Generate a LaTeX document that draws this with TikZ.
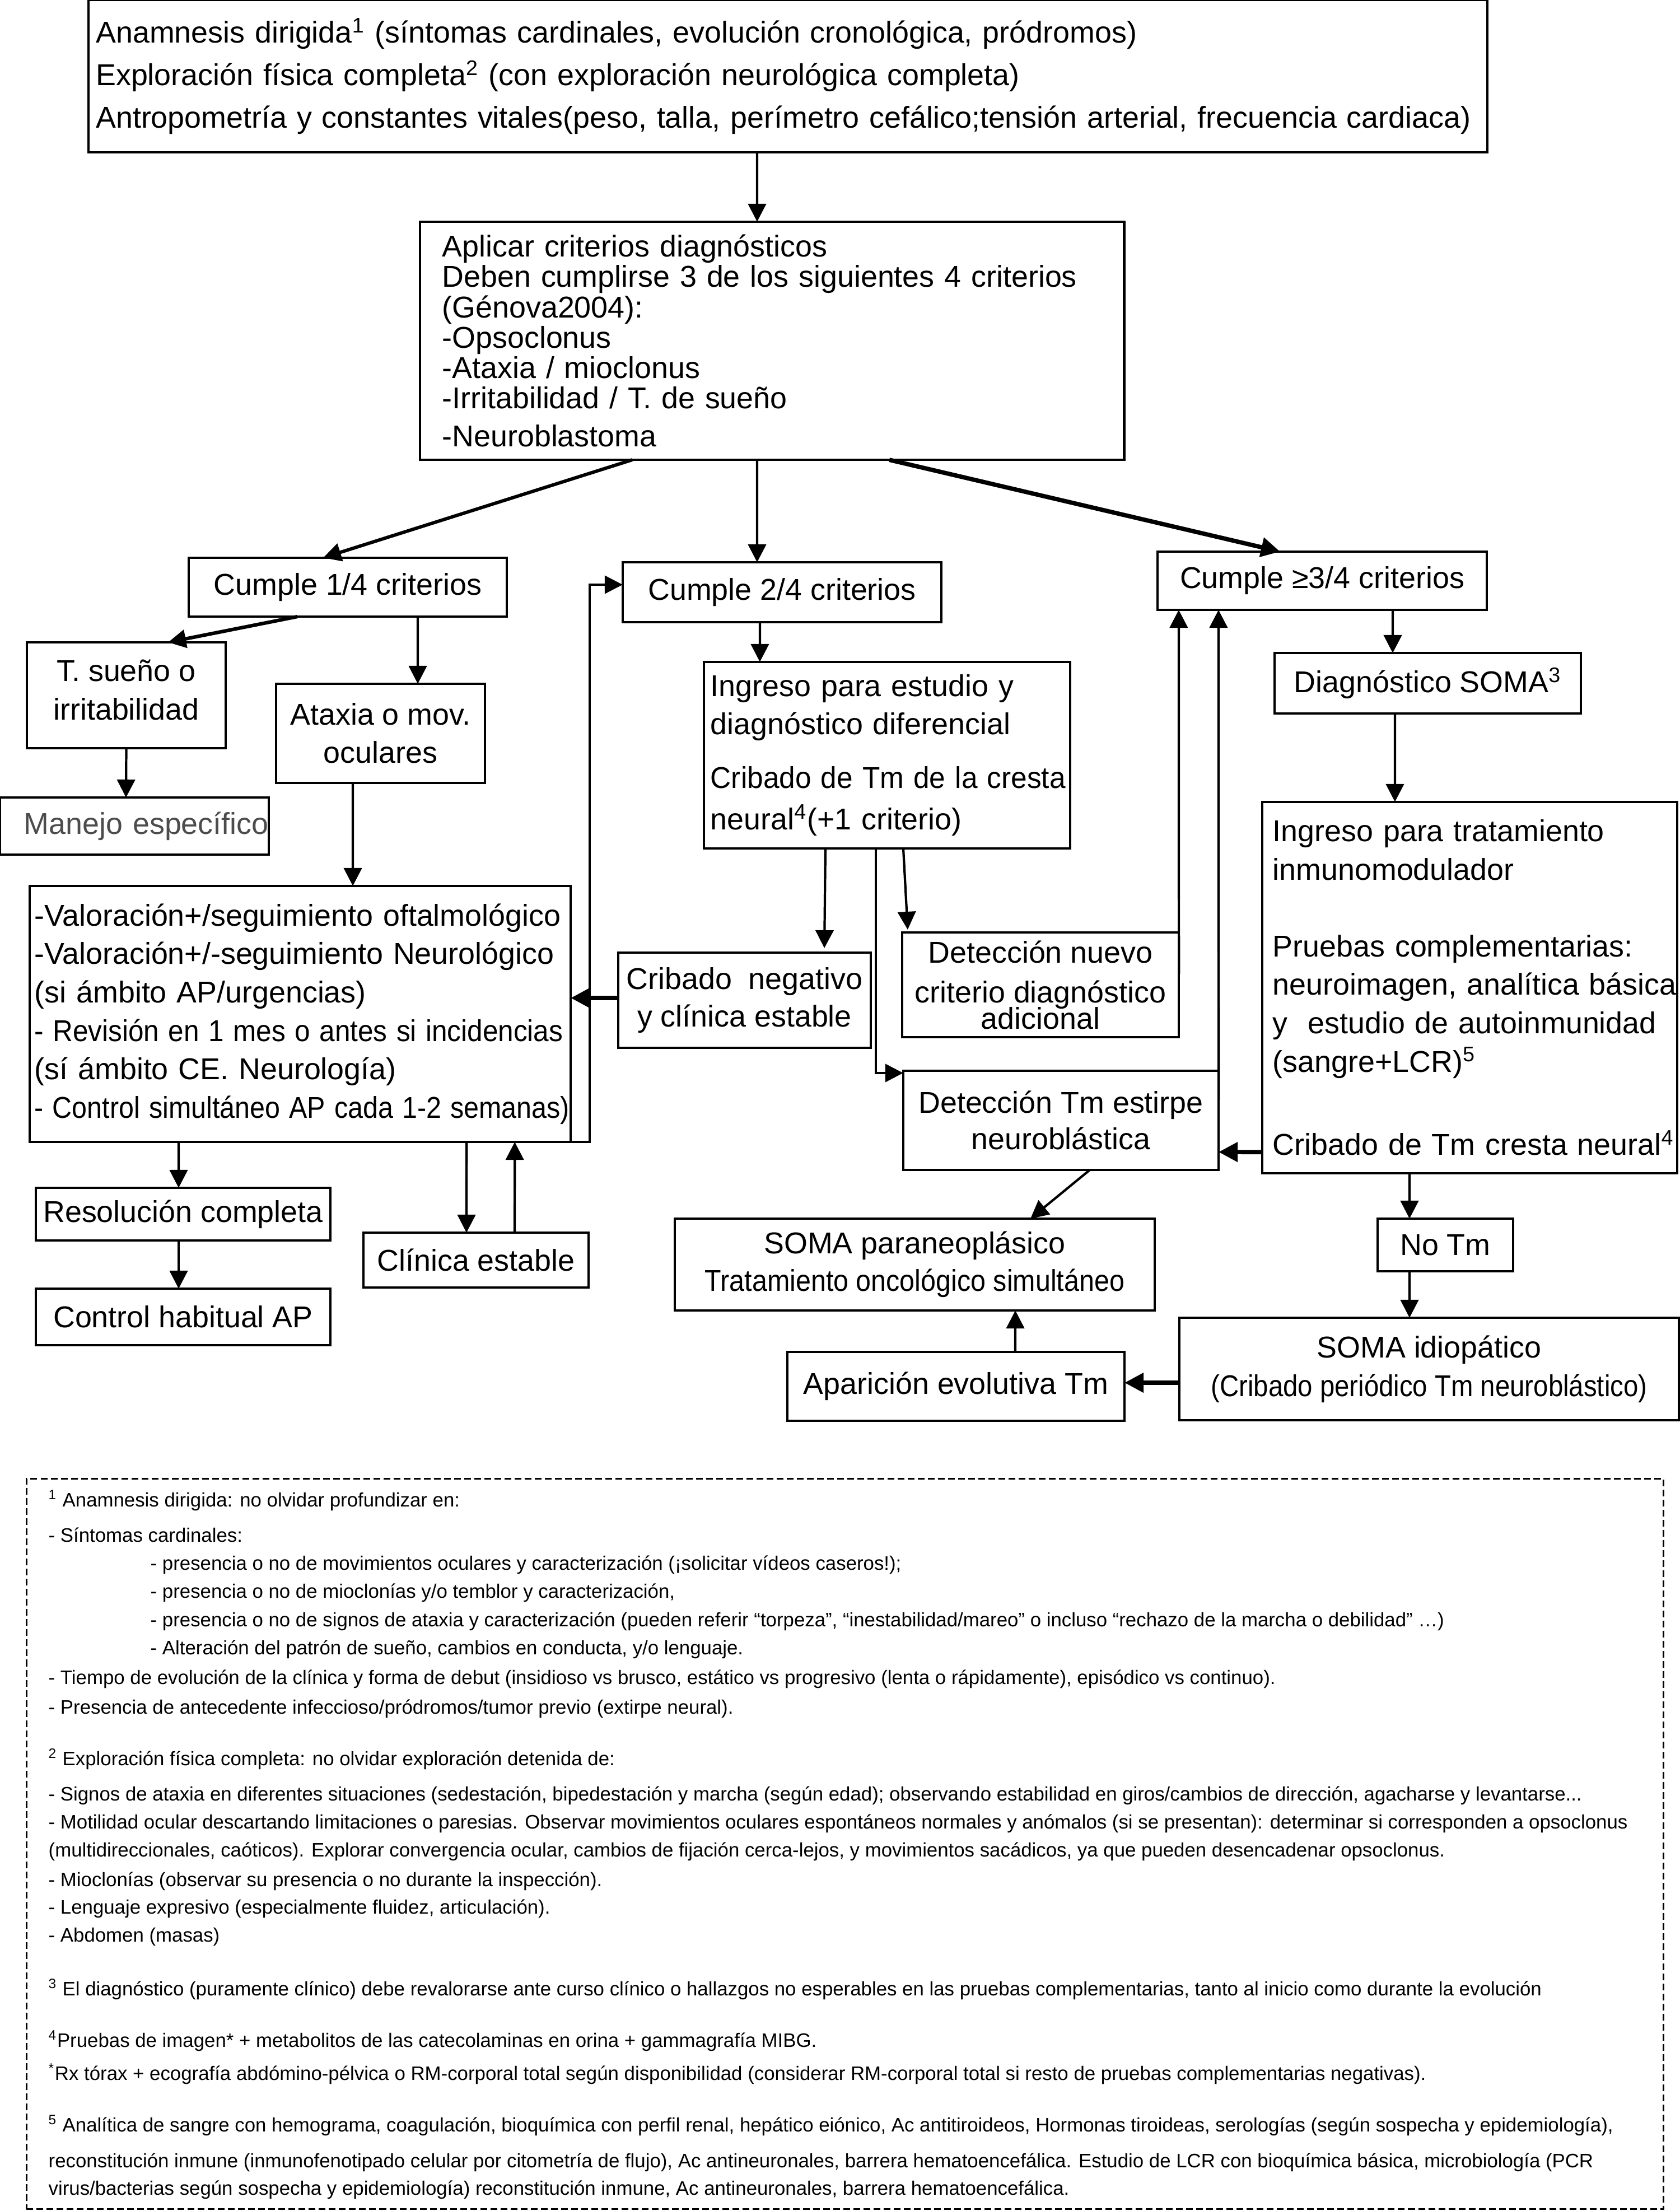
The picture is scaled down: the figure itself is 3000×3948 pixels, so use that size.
\documentclass[tikz,border=0pt]{standalone}
\usepackage{fontspec}
\setmainfont{Liberation Sans}
\usepackage{graphicx}
\usetikzlibrary{arrows.meta}
\tikzset{
  box/.style={draw, line width=1.2pt, inner sep=0.08cm, outer sep=0pt, font=\fontsize{15.3pt}{0.69cm}\selectfont},
  arr/.style={-{Triangle[length=0.32cm,width=0.32cm]}, line width=1.2pt},
  tarr/.style={-{Triangle[length=0.34cm,width=0.34cm]}, line width=2.2pt},
  fn/.style={anchor=base west, inner sep=0pt, font=\fontsize{9.9pt}{12pt}\selectfont},
  fnbox/.style={draw, line width=0.9pt, dash pattern=on 0.12cm off 0.06cm, outer sep=0pt},
}
\begin{document}
\begin{tikzpicture}[x=0.01cm,y=-0.01cm]
\useasboundingbox (0,0) rectangle (3000,3948);

% ---------- boxes ----------
\node[box, minimum width=24.96cm, minimum height=2.72cm, text width=24.7cm, align=left, inner xsep=0.05cm,
      font=\fontsize{15.3pt}{0.76cm}\selectfont] (top) at (1407,136)
 {\mbox{Anamnesis dirigida\textsuperscript{1} (síntomas cardinales, evolución cronológica, pródromos)}\\
  \mbox{Exploración física completa\textsuperscript{2} (con exploración neurológica completa)}\\
  \mbox{Antropometría y constantes vitales(peso, talla, perímetro cefálico;tensión arterial, frecuencia cardiaca)}};

\node[box, minimum width=12.57cm, minimum height=4.25cm, text width=11.77cm, align=left, inner xsep=0.05cm,
      font=\fontsize{15.3pt}{0.54cm}\selectfont] (crit) at (1378.5,608.5)
 {\mbox{Aplicar criterios diagnósticos}\\
  \mbox{Deben cumplirse 3 de los siguientes 4 criterios}\\
  \mbox{(Génova2004):}\\
  \mbox{-Opsoclonus}\\
  \mbox{-Ataxia / mioclonus}\\
  \mbox{-Irritabilidad / T. de sueño}\\[0.14cm]
  \mbox{-Neuroblastoma}};

\node[box, minimum width=5.68cm, minimum height=1.05cm] (c1) at (621,1048.5) {Cumple 1/4 criterios};
\node[box, minimum width=5.69cm, minimum height=1.07cm] (c2) at (1396.5,1057.5) {Cumple 2/4 criterios};
\node[box, minimum width=5.88cm, minimum height=1.04cm] (c3) at (2361,1037) {Cumple ≥3/4 criterios};

\node[box, minimum width=3.55cm, minimum height=1.89cm, align=center] (tsueno) at (225.5,1241.5) {T. sueño o\\ irritabilidad\\[-0.49cm]\mbox{}};
\node[box, minimum width=3.73cm, minimum height=1.77cm, align=center,
      font=\fontsize{15.3pt}{0.68cm}\selectfont] (ataxia) at (679.5,1309.5) {Ataxia o mov.\\ oculares};
\node[box, minimum width=4.79cm, minimum height=1.02cm, text width=3.94cm, align=left, text=black!70] (manejo) at (240,1475)
 {\mbox{Manejo específico}};

\node[box, minimum width=9.66cm, minimum height=4.57cm, text width=9.48cm, align=left, inner xsep=0.05cm,
      font=\fontsize{15.3pt}{0.686cm}\selectfont] (val) at (536,1810.5)
 {\mbox{-Valoración+/seguimiento oftalmológico}\\
  \mbox{-Valoración+/-seguimiento Neurológico}\\
  \mbox{(si ámbito AP/urgencias)}\\
  \scalebox{0.92}[1]{- Revisión en 1 mes o antes si incidencias}\\
  \mbox{(sí ámbito CE. Neurología)}\\
  \scalebox{0.9}[1]{- Control simultáneo AP cada 1-2 semanas)}};

\node[box, minimum width=6.54cm, minimum height=3.33cm, text width=6.3cm, align=left, inner xsep=0.05cm,
      font=\fontsize{15.3pt}{0.65cm}\selectfont] (ingest) at (1584,1348.5)
 {\mbox{Ingreso para estudio y}\\[0.03cm]
  \mbox{diagnóstico diferencial}\\[0.31cm]
  \scalebox{0.955}[1]{Cribado de Tm de la cresta}\\[0.08cm]
  \mbox{neural\textsuperscript{4}(+1 criterio)}};

\node[box, minimum width=4.51cm, minimum height=1.70cm, align=center,
      font=\fontsize{15.3pt}{0.67cm}\selectfont] (cribneg) at (1329.5,1786) {Cribado\ \ negativo\\ y clínica estable};

\node[box, minimum width=4.94cm, minimum height=1.87cm, align=center,
      font=\fontsize{15.3pt}{0.6cm}\selectfont] (detnuevo) at (1858,1758.5)
 {Detección nuevo\\[0.11cm] criterio diagnóstico\\[-0.13cm] adicional};

\node[box, minimum width=5.63cm, minimum height=1.77cm, align=center,
      font=\fontsize{15.3pt}{0.65cm}\selectfont] (dettm) at (1894.5,2000.5) {Detección Tm estirpe\\ neuroblástica};

\node[box, minimum width=5.47cm, minimum height=1.08cm] (dsoma) at (2549.5,1220) {Diagnóstico SOMA\textsuperscript{3}};

\node[box, minimum width=7.41cm, minimum height=6.63cm, text width=7.03cm, align=left, inner xsep=0.05cm,
      font=\fontsize{15.3pt}{0.685cm}\selectfont] (ingtr) at (2624.5,1763.5)
 {\mbox{Ingreso para tratamiento}\\
  \mbox{inmunomodulador}\\[0.685cm]
  \mbox{Pruebas complementarias:}\\
  \mbox{neuroimagen, analítica básica}\\
  \mbox{y\ \ estudio de autoinmunidad}\\
  \mbox{(sangre+LCR)\textsuperscript{5}}\\[0.8cm]
  \mbox{Cribado de Tm cresta neural\textsuperscript{4}}};

\node[box, minimum width=2.42cm, minimum height=0.94cm] (notm) at (2581,2223) {No Tm};
\node[box, minimum width=8.92cm, minimum height=1.83cm, align=center] (sidio) at (2552,2444.5)
 {SOMA idiopático\\ \scalebox{0.88}[1]{(Cribado periódico Tm neuroblástico)}};
\node[box, minimum width=6.02cm, minimum height=1.23cm] (apar) at (1707,2475.5) {Aparición evolutiva Tm};
\node[box, minimum width=8.57cm, minimum height=1.64cm, align=center,
      font=\fontsize{15.3pt}{0.67cm}\selectfont] (spara) at (1633.5,2258)
 {SOMA paraneoplásico\\ \scalebox{0.9}[1]{Tratamiento oncológico simultáneo}};

\node[box, minimum width=4.02cm, minimum height=0.98cm] (clin) at (850,2250) {Clínica estable};
\node[box, minimum width=5.26cm, minimum height=0.94cm] (resol) at (327,2168) {Resolución completa};
\node[box, minimum width=5.26cm, minimum height=1.01cm] (ctrl) at (327,2351.5) {Control habitual AP};

% ---------- connectors ----------
\draw[arr] ([xshift=-0.55cm]top.south) -- ([xshift=-0.265cm]crit.north);
\draw[arr, line width=1.7pt] ([xshift=-2.495cm]crit.south) -- ([xshift=-0.44cm]c1.north);
\draw[arr] ([xshift=-0.265cm]crit.south) -- ([xshift=-0.445cm]c2.north);
\draw[tarr] ([xshift=2.095cm]crit.south) -- ([xshift=-0.75cm]c3.north);
\draw[arr, line width=1.8pt] ([xshift=-0.9cm]c1.south) -- ([xshift=0.745cm]tsueno.north);
\draw[arr] ([xshift=1.25cm]c1.south) -- ([xshift=0.665cm]ataxia.north);
\draw[arr] (tsueno.south) -- ([xshift=-0.15cm]manejo.north);
\draw[arr] ([xshift=-0.495cm]ataxia.south) -- ([xshift=0.94cm]val.north);
\draw[arr] ([xshift=4.59cm]val.south) -- ++(0.58cm,0) |- ([yshift=0.135cm]c2.west);
\draw[arr] ([xshift=2.97cm]val.south) -- ([xshift=-0.17cm]clin.north);
\draw[arr] ([xshift=0.69cm]clin.north) -- ([xshift=3.83cm]val.south);
\draw[arr] ([xshift=-2.17cm]val.south) -- ([xshift=-0.08cm]resol.north);
\draw[arr] ([xshift=-0.08cm]resol.south) -- ([xshift=-0.08cm]ctrl.north);
\draw[tarr] ([yshift=0.04cm]cribneg.west) -- ([yshift=0.285cm]val.east);
\draw[arr] ([xshift=-0.395cm]c2.south) -- ([xshift=-2.27cm]ingest.north);
\draw[arr] ([xshift=-1.1cm]ingest.south) -- ([xshift=1.425cm,yshift=0.08cm]cribneg.north);
\draw[arr] ([xshift=-0.2cm]ingest.south) |- ([yshift=0.845cm]dettm.west);
\draw[arr] ([xshift=0.29cm]ingest.south) -- ([xshift=-2.37cm,yshift=0.05cm]detnuevo.north);
\draw[arr] ([yshift=0.185cm]detnuevo.east) -- ([xshift=-2.56cm]c3.south);
\draw[arr] ([yshift=0.365cm]dettm.east) -- ([xshift=-1.85cm]c3.south);
\draw[tarr] ([yshift=-2.935cm]ingtr.west) -- ([yshift=-0.565cm]dettm.east);
\draw[arr] ([xshift=1.26cm]c3.south) -- ([xshift=-0.625cm]dsoma.north);
\draw[arr] ([xshift=-0.585cm]dsoma.south) -- ([xshift=-1.335cm]ingtr.north);
\draw[arr] ([xshift=-1.075cm]ingtr.south) -- ([xshift=-0.64cm]notm.north);
\draw[arr] ([xshift=-0.64cm]notm.south) -- ([xshift=-0.35cm]sidio.north);
\draw[tarr] ([yshift=-0.245cm]sidio.west) -- ([yshift=0.065cm]apar.east);
\draw[arr] ([xshift=1.06cm]apar.north) -- ([xshift=1.795cm]spara.south);
\draw[arr] ([xshift=0.515cm]dettm.south) -- ([xshift=2.065cm]spara.north);

% ---------- footnotes ----------
\node[fnbox, minimum width=29.22cm, minimum height=13.03cm] (notes) at (1509,3292.5) {};
\node[fn] (fn1) at (86,2690) {\textsuperscript{1} Anamnesis dirigida: no olvidar profundizar en:};
\node[fn] (fn2) at (86,2753) {- Síntomas cardinales:};
\node[fn] (fn3) at (268,2803) {- presencia o no de movimientos oculares y caracterización (¡solicitar vídeos caseros!);};
\node[fn] (fn4) at (268,2853) {- presencia o no de mioclonías y/o temblor y caracterización,};
\node[fn] (fn5) at (268,2904) {- presencia o no de signos de ataxia y caracterización (pueden referir “torpeza”, “inestabilidad/mareo” o incluso “rechazo de la marcha o debilidad” …)};
\node[fn] (fn6) at (268,2954) {- Alteración del patrón de sueño, cambios en conducta, y/o lenguaje.};
\node[fn] (fn7) at (86,3007) {- Tiempo de evolución de la clínica y forma de debut (insidioso vs brusco, estático vs progresivo (lenta o rápidamente), episódico vs continuo).};
\node[fn] (fn8) at (86,3060) {- Presencia de antecedente infeccioso/pródromos/tumor previo (extirpe neural).};
\node[fn] (fn9) at (86,3152) {\textsuperscript{2} Exploración física completa: no olvidar exploración detenida de:};
\node[fn] (fn10) at (86,3215) {- Signos de ataxia en diferentes situaciones (sedestación, bipedestación y marcha (según edad); observando estabilidad en giros/cambios de dirección, agacharse y levantarse...};
\node[fn] (fn11) at (86,3265) {- Motilidad ocular descartando limitaciones o paresias. Observar movimientos oculares espontáneos normales y anómalos (si se presentan): determinar si corresponden a opsoclonus};
\node[fn] (fn12) at (86,3315) {(multidireccionales, caóticos). Explorar convergencia ocular, cambios de fijación cerca-lejos, y movimientos sacádicos, ya que pueden desencadenar opsoclonus.};
\node[fn] (fn13) at (86,3368) {- Mioclonías (observar su presencia o no durante la inspección).};
\node[fn] (fn14) at (86,3417) {- Lenguaje expresivo (especialmente fluidez, articulación).};
\node[fn] (fn15) at (86,3467) {- Abdomen (masas)};
\node[fn] (fn16) at (86,3563) {\textsuperscript{3} El diagnóstico (puramente clínico) debe revalorarse ante curso clínico o hallazgos no esperables en las pruebas complementarias, tanto al inicio como durante la evolución};
\node[fn] (fn17) at (86,3655) {\textsuperscript{4}Pruebas de imagen* + metabolitos de las catecolaminas en orina + gammagrafía MIBG.};
\node[fn] (fn18) at (86,3714) {\textsuperscript{*}Rx tórax + ecografía abdómino-pélvica o RM-corporal total según disponibilidad (considerar RM-corporal total si resto de pruebas complementarias negativas).};
\node[fn] (fn19) at (86,3806) {\textsuperscript{5} Analítica de sangre con hemograma, coagulación, bioquímica con perfil renal, hepático eiónico, Ac antitiroideos, Hormonas tiroideas, serologías (según sospecha y epidemiología),};
\node[fn] (fn20) at (86,3870) {reconstitución inmune (inmunofenotipado celular por citometría de flujo), Ac antineuronales, barrera hematoencefálica. Estudio de LCR con bioquímica básica, microbiología (PCR};
\node[fn] (fn21) at (86,3919) {virus/bacterias según sospecha y epidemiología) reconstitución inmune, Ac antineuronales, barrera hematoencefálica.};
\end{tikzpicture}
\end{document}
